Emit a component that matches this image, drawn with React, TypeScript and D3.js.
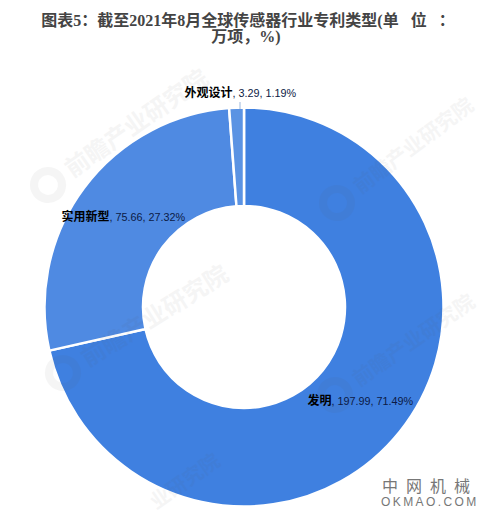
import React from 'react';
import * as d3 from 'd3';

const categories = ['发明', '实用新型', '外观设计'];
const values = [197.99, 75.66, 3.29];
const shares = ['71.49%', '27.32%', '1.19%'];
const colors = ['#3f80e0', '#4f8ae2', '#5b93e3'];
const titleLines = ['图表5：截至2021年8月全球传感器行业专利类型(单 位 ：', '万项，%)'];

const WIDTH = 487;
const HEIGHT = 518;
const CX = 244;
const CY = 307;
const OUTER = 199.5;
const INNER = 101;
const FONT = '"Liberation Sans", "Noto Sans CJK SC", sans-serif';
const TITLE_FONT = '"Liberation Serif", "Noto Sans CJK SC", serif';

// faint company marks laid over the chart: logo centre, angle, font size
const marks = [
  { x: 48, y: 185, angle: -35, size: 24, logo: true, label: '前瞻产业研究院' },
  { x: 337, y: 203, angle: -37, size: 20.5, logo: true, label: '前瞻产业研究院' },
  { x: 63, y: 373, angle: -32, size: 24, logo: true, label: '前瞻产业研究院' },
  { x: 335, y: 395, angle: -35, size: 20.5, logo: true, label: '前瞻产业研究院' },
  { x: 152, y: 504, angle: -35, size: 20, logo: false, label: '业研究院' },
];

const pie = d3.pie<number>().sort(null).value((d) => d);
const arc = d3.arc<d3.PieArcDatum<number>>().innerRadius(INNER).outerRadius(OUTER);

// nudges from each slice centre to where the label sits
const labelOffsets = [
  [-1, 4],
  [0, 3],
  [2, -60],
];

export default function App() {
  const arcs = pie(values);
  return (
    <svg
      width={WIDTH}
      height={HEIGHT}
      viewBox={`0 0 ${WIDTH} ${HEIGHT}`}
      style={{ position: 'absolute', left: 0, top: 0, background: '#fff' }}
    >
      {titleLines.map((line, i) => (
        <text
          key={i}
          x={i === 0 ? 248 : 246}
          y={26 + i * 16}
          textAnchor="middle"
          fontFamily={TITLE_FONT}
          fontSize={16}
          fontWeight="bold"
          fill="#444"
          wordSpacing={8}
        >
          {line}
        </text>
      ))}

      <g transform={`translate(${CX},${CY})`}>
        {arcs.map((d, i) => (
          <path key={i} d={arc(d) ?? ''} fill={colors[i]} stroke="#fff" strokeWidth={2.5} />
        ))}
      </g>

      {marks.map((m, i) => (
        <g key={i} transform={`translate(${m.x},${m.y}) rotate(${m.angle})`} opacity={0.055}>
          {m.logo && <circle r={14} fill="none" stroke="#555" strokeWidth={8} />}
          <text
            x={m.logo ? 24 : 0}
            y={m.size * 0.36}
            fontFamily={FONT}
            fontSize={m.size}
            fontWeight="bold"
            fill="#555"
          >
            {m.label}
          </text>
        </g>
      ))}

      <line x1={CX - 4} y1={102} x2={CX - 4} y2={109} stroke="#9db8dc" strokeWidth={1} />

      {arcs.map((d, i) => {
        const [cx, cy] = arc.centroid(d);
        const x = CX + cx + labelOffsets[i][0];
        const y = CY + cy + labelOffsets[i][1];
        return (
          <text key={i} x={x} y={y} textAnchor="middle" fontFamily={FONT} fontSize={10.8} fill="#0c1a45">
            <tspan fontSize={12} fontWeight="bold" fill="#000">
              {categories[i]}
            </tspan>
            <tspan>{`, ${values[i]}, ${shares[i]}`}</tspan>
          </text>
        );
      })}

      <g fill="#777" fontFamily={FONT}>
        <text x={382} y={492} fontSize={16} letterSpacing={8}>
          中网机械
        </text>
        <text x={381} y={506} fontSize={12} letterSpacing={2.4}>
          OKMAO.COM
        </text>
      </g>
    </svg>
  );
}
